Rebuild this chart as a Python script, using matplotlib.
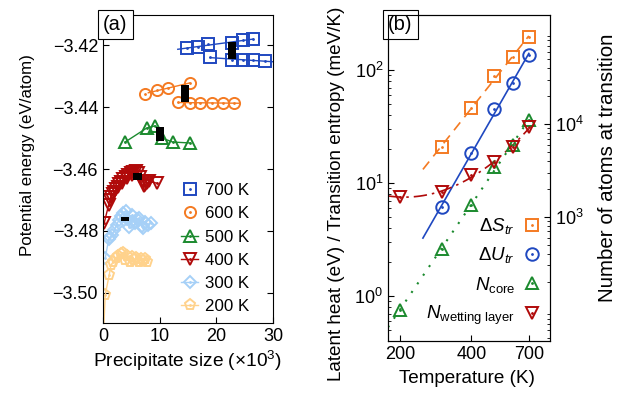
import numpy as np
import matplotlib
matplotlib.use('Agg')
import matplotlib.pyplot as plt
from matplotlib.ticker import FixedLocator, LogLocator, NullLocator

plt.rcParams['font.family'] = ['Liberation Sans', 'DejaVu Sans']
plt.rcParams['mathtext.fontset'] = 'custom'
plt.rcParams['mathtext.rm'] = 'Liberation Sans'
plt.rcParams['mathtext.it'] = 'Liberation Sans:italic'
plt.rcParams['font.size'] = 13

# ---- panel (a) data: potential energy vs precipitate size (x1000) ----
s700_up = [14.9, 16.8, 18.6, 22.8, 24.7, 26.5]
e700_up = [-3.4210, -3.4206, -3.4197, -3.4192, -3.4184, -3.4181]
s700_lo = [18.9, 22.8, 24.7, 26.5, 28.6]
e700_lo = [-3.4239, -3.4248, -3.4248, -3.4248, -3.4252]

s600_up = [7.5, 9.5, 11.4, 15.3]
e600_up = [-3.4358, -3.4345, -3.4339, -3.4323]
s600_lo = [13.3, 15.3, 17.2, 19.3, 21.2, 23.2]
e600_lo = [-3.4384, -3.4387, -3.4387, -3.4387, -3.4387, -3.4387]

s500_up = [3.9, 7.7, 9.1]
e500_up = [-3.4513, -3.4468, -3.4461]
s500_lo = [10.4, 12.3, 15.4]
e500_lo = [-3.4500, -3.4513, -3.4516]

s400 = [0.2, 1.0, 1.2, 1.4, 1.7, 2.0, 2.3, 2.6, 2.9, 3.2, 3.4, 3.6, 4.0, 4.2,
        4.4, 4.9, 5.1, 5.3, 5.8, 6.2, 6.6, 7.0, 7.3, 7.5, 7.8, 8.1, 9.6]
e400 = [-3.4775, -3.4716, -3.4700, -3.4689, -3.4680, -3.4673, -3.4665, -3.4657,
        -3.4649, -3.4641, -3.4645, -3.4633, -3.4625, -3.4630, -3.4619, -3.4614,
        -3.4620, -3.4609, -3.4605, -3.4612, -3.4625, -3.4640, -3.4655, -3.4652,
        -3.4645, -3.4640, -3.4646]

s300 = [0.4, 1.0, 1.3, 1.6, 2.0, 2.4, 2.8, 3.1, 3.5, 4.0, 4.3, 4.6, 5.0, 5.2,
        5.6, 6.0, 6.4, 6.8, 7.0, 7.5, 8.0, 8.4]
e300 = [-3.4888, -3.4827, -3.4820, -3.4813, -3.4797, -3.4780, -3.4765, -3.4752,
        -3.4743, -3.4735, -3.4760, -3.4786, -3.4770, -3.4748, -3.4775, -3.4760,
        -3.4759, -3.4785, -3.4790, -3.4770, -3.4780, -3.4775]

s200 = [0.05, 0.4, 1.1, 1.4, 1.8, 2.3, 2.7, 3.1, 3.5, 3.9, 4.3, 4.7, 5.1, 5.5,
        5.9, 6.3, 6.7, 7.1, 7.5, 7.8]
e200 = [-3.515, -3.5006, -3.4942, -3.4910, -3.4900, -3.4887, -3.4880, -3.4875,
        -3.4872, -3.4895, -3.4880, -3.4900, -3.4885, -3.4895, -3.4888, -3.4900,
        -3.4890, -3.4897, -3.4892, -3.4899]

# transition boxes (size, low E, high E)
tr_size = [22.8, 14.5, 10.1, 6.1, 3.9]
tr_lo = [-3.4245, -3.4384, -3.4510, -3.4635, -3.4768]
tr_hi = [-3.4190, -3.4329, -3.4465, -3.4613, -3.4755]

# ---- panel (b) data ----
temps = [200, 300, 400, 500, 600, 700]
dS = [20.8, 46, 88.5, 130, 196]          # meV/K, T = 300..700
dU = [6.1, 18.4, 45, 77, 136]            # eV, T = 300..700
n_core = [100, 453, 1345, 3450, 5940, 11040]
n_wet = [1640, 1860, 2830, 3900, 5660, 9290]

blue = '#1f48c0'
orange = '#f47a22'
green = '#1b8a2e'
red = '#b00a0a'
lblue = '#a6d0f7'
lorange = '#ffd28c'

fig = plt.figure(figsize=(6.26, 3.94), dpi=100)
axa = fig.add_axes([0.1645, 0.1802, 0.2716, 0.7817])
axb = fig.add_axes([0.6198, 0.1345, 0.2588, 0.8274])


def mk(ax, x, y, c, m, ms=7, ls='-', lw=1.0):
    h1, = ax.plot(x, y, ls=ls, lw=lw, color=c, marker=m, ms=ms, mfc='none',
                  mew=1.4)
    h2, = ax.plot(x, y, ls='none', marker='.', ms=2, color=c)
    return (h1, h2)


def fitline(ax, x, y, x0, x1, c):
    p = np.polyfit(x, y, 1)
    xx = np.array([x0, x1])
    ax.plot(xx, np.polyval(p, xx), color=c, lw=1.0)


# panel (a)
fitline(axa, s700_up, e700_up, 13.2, 26.5, blue)
fitline(axa, s700_lo, e700_lo, 18.9, 30, blue)
fitline(axa, s600_up, e600_up, 8.0, 15.3, orange)
fitline(axa, s600_lo, e600_lo, 13.3, 24.0, orange)
h700 = mk(axa, s700_up, e700_up, blue, 's', ms=8.5, ls='none')
mk(axa, s700_lo, e700_lo, blue, 's', ms=8.5, ls='none')
h600 = mk(axa, s600_up, e600_up, orange, 'o', ms=8, ls='none')
mk(axa, s600_lo, e600_lo, orange, 'o', ms=8, ls='none')
h500 = mk(axa, s500_up, e500_up, green, '^', ms=8)
mk(axa, s500_lo, e500_lo, green, '^', ms=8)
h400 = mk(axa, s400, e400, red, 'v', ms=8)
h300 = mk(axa, s300, e300, lblue, 'D', ms=6)
h200 = mk(axa, s200, e200, lorange, 'p', ms=8)

for s, lo, hi in zip(tr_size, tr_lo, tr_hi):
    axa.bar(s, hi - lo, bottom=lo, width=1.5, color='k', zorder=5)

axa.set_xlim(0, 30)
axa.set_ylim(-3.5097, -3.4103)
axa.set_xticks([0, 10, 20, 30])
axa.set_yticks([-3.42, -3.44, -3.46, -3.48, -3.50])
axa.tick_params(direction='in', right=True, length=4, labelsize=13)
axa.set_xlabel('Precipitate size (×10$^3$)', fontsize=13.8)
axa.set_ylabel('Potential energy (eV/atom)', fontsize=12.2)
axa.xaxis.set_label_coords(0.5, -0.085)
axa.yaxis.set_label_coords(-0.40, 0.545)
axa.legend([h700, h600, h500, h400, h300, h200],
           ['700 K', '600 K', '500 K', '400 K', '300 K', '200 K'],
           loc='lower left', bbox_to_anchor=(0.37, -0.02), frameon=False,
           fontsize=12.2, handlelength=1.0, handletextpad=0.4,
           labelspacing=0.48)
axa.text(0.0, 1.0, '(a)', transform=axa.transAxes, ha='left', va='top',
         fontsize=14.5, bbox=dict(boxstyle='square,pad=0.25', fc='white',
                                  ec='k', lw=0.8))

# panel (b)
axr = axb.twinx()
lT = np.log10(temps)
tt = np.linspace(250, 700, 50)
p = np.polyfit(lT[1:], np.log10(dS), 1)
axb.plot(tt, 10 ** np.polyval(p, np.log10(tt)), color=orange, ls=(0, (6, 4)), lw=1.2)
p = np.polyfit(lT[1:], np.log10(dU), 1)
axb.plot(tt, 10 ** np.polyval(p, np.log10(tt)), color=blue, lw=1.2)
tt2 = np.linspace(178, 700, 80)
p = np.polyfit(lT, np.log10(n_core), 1)
axr.plot(tt2, 10 ** np.polyval(p, np.log10(tt2)), color=green, ls=(0, (1, 4)), lw=1.5)
p = np.polyfit(lT, np.log10(n_wet), 2)
axr.plot(tt2, 10 ** np.polyval(p, np.log10(tt2)), color=red, ls=(0, (8, 3, 1.5, 3)), lw=1.2)

hS = mk(axb, temps[1:], dS, orange, 's', ms=8, ls='none')
hU = mk(axb, temps[1:], dU, blue, 'o', ms=9, ls='none')
hC = mk(axr, temps, n_core, green, '^', ms=8, ls='none')
hW = mk(axr, temps, n_wet, red, 'v', ms=8, ls='none')

axb.set_xscale('log')
axb.set_yscale('log')
axr.set_yscale('log')
axb.set_xlim(178, 860)
axb.set_ylim(0.40, 307)
axr.set_ylim(46, 1.5e5)
axb.set_xticks([200, 400, 700])
axb.set_xticklabels(['200', '400', '700'])
axb.xaxis.set_minor_locator(NullLocator())
axr.yaxis.set_major_locator(FixedLocator([1e3, 1e4]))
axr.yaxis.set_minor_locator(LogLocator(subs=np.arange(2, 10)))
axb.tick_params(which='both', direction='in', top=False, labelsize=13)
axb.tick_params(which='major', length=4)
axb.tick_params(which='minor', length=2)
axr.tick_params(which='both', direction='in', labelsize=13)
axr.tick_params(which='major', length=4)
axr.tick_params(which='minor', length=2)
axb.set_xlabel('Temperature (K)', fontsize=13.6)
axb.set_ylabel('Latent heat (eV) / Transition entropy (meV/K)', fontsize=13.6)
axr.set_ylabel('Number of atoms at transition', fontsize=14.8)
axb.xaxis.set_label_coords(0.49, -0.09)
axb.yaxis.set_label_coords(-0.265, 0.45)
axr.yaxis.set_label_coords(1.296, 0.53)
axb.text(0.0, 1.0, '(b)', transform=axb.transAxes, ha='left', va='top',
         fontsize=14.5, bbox=dict(boxstyle='square,pad=0.25', fc='white',
                                  ec='k', lw=0.8), zorder=10)
axr.legend([hS, hU, hC, hW],
           [r'$\Delta S_{tr}$', r'$\Delta U_{tr}$', r'$N_{\rm core}$',
            r'$N_{\rm wetting\ layer}$'],
           loc='lower right', bbox_to_anchor=(1.05, -0.01), frameon=False,
           fontsize=13.5, markerfirst=False, handlelength=1.0,
           handletextpad=0.4, labelspacing=0.5)

fig.savefig('out.png', dpi=100)
